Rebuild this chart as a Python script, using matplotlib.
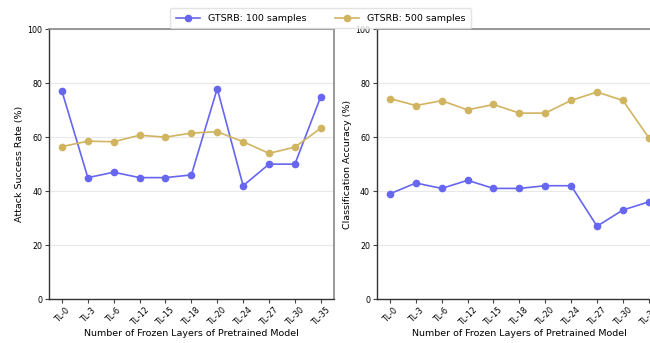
import matplotlib
matplotlib.use("Agg")
from matplotlib import pyplot as plt

layers = ["TL-0", "TL-3", "TL-6", "TL-12", "TL-15", "TL-18",
          "TL-20", "TL-24", "TL-27", "TL-30", "TL-35"]

asr_100 = [77, 45, 47, 45, 45, 46, 78, 42, 50, 50, 75]
asr_500 = [56.5, 58.5, 58.3, 60.7, 60, 61.5, 62, 58.3, 54, 56.3, 63.3]

acc_100 = [39, 43, 41, 44, 41, 41, 42, 42, 27, 33, 36]
acc_500 = [74.3, 71.7, 73.5, 70.1, 72.1, 68.9, 68.9, 73.6, 76.7, 73.6, 59.8]

blue = "#6666f0"
gold = "#d1b460"

fig = plt.figure(figsize=(6.5, 3.43), dpi=100)
ax1 = fig.add_axes([0.0754, 0.128, 0.438, 0.787])
ax2 = fig.add_axes([0.58, 0.128, 0.438, 0.787])


def style(ax, ylabel):
    x = range(len(layers))
    ax.set_ylim(0, 100)
    ax.set_xlim(-0.5, len(layers) - 0.5)
    ax.set_yticks([0, 20, 40, 60, 80, 100])
    ax.set_xticks(list(x))
    ax.set_xticklabels(layers, rotation=45, fontsize=5.7)
    ax.tick_params(axis="y", labelsize=5.7, length=3, color="#444444", pad=2)
    ax.tick_params(axis="x", length=3, color="#444444", pad=2)
    ax.grid(axis="y", color="#e8e8e8", lw=0.8)
    ax.set_axisbelow(True)
    for s in ["top", "right"]:
        ax.spines[s].set_color("#888888")
        ax.spines[s].set_linewidth(1.2)
    for s in ["left", "bottom"]:
        ax.spines[s].set_color("#333333")
        ax.spines[s].set_linewidth(1.0)
    ax.set_xlabel("Number of Frozen Layers of Pretrained Model", fontsize=6.8,
                  labelpad=1)
    ax.set_ylabel(ylabel, fontsize=6.8, labelpad=2)


x = range(len(layers))
ax1.plot(x, asr_100, "-o", color=blue, ms=4.5, lw=1.2, label="GTSRB: 100 samples")
ax1.plot(x, asr_500, "-o", color=gold, ms=4.5, lw=1.2, label="GTSRB: 500 samples")
style(ax1, "Attack Success Rate (%)")

ax2.plot(x, acc_100, "-o", color=blue, ms=4.5, lw=1.2)
ax2.plot(x, acc_500, "-o", color=gold, ms=4.5, lw=1.2)
style(ax2, "Classification Accuracy (%)")

fig.legend(loc="upper center", bbox_to_anchor=(0.493, 0.99), ncol=2,
           fontsize=6.8, frameon=True, edgecolor="#dddddd", fancybox=True,
           borderpad=0.6, columnspacing=3.0, handlelength=2.6)

fig.savefig("out.png", dpi=100)
